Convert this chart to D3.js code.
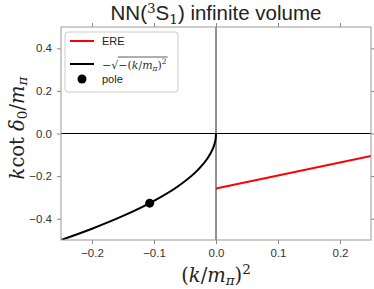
<!DOCTYPE html>
<html>
<head>
<meta charset="utf-8">
<script src="https://cdn.jsdelivr.net/npm/d3@7"></script>
<style>
  body { margin: 0; background: #fff; }
  svg { display: block; }
  .tick text { font-family: "Liberation Sans", Arial, sans-serif; font-size: 11.5px; fill: #333; }
  .tick line { stroke: #888; }
  .domain { display: none; }
  .math { font-family: "DejaVu Serif", serif; }
</style>
</head>
<body>
<div id="chart"></div>
<script>
// values
var xTicks = [-0.2, -0.1, 0.0, 0.1, 0.2];
var yTicks = [-0.4, -0.2, 0.0, 0.2, 0.4];

var ereX = [0.0, 0.25];
var ereY = [-0.258, -0.105];

var rootX = [-0.25, -0.2, -0.15, -0.1, -0.06, -0.03, -0.015, -0.006, -0.002, -0.0004, 0.0];
var rootY = [-0.5, -0.447, -0.387, -0.316, -0.245, -0.173, -0.122, -0.077, -0.045, -0.02, 0.0];

var poleX = [-0.107];
var poleY = [-0.327];

var svgWidth = 374;
var svgHeight = 289;

var margin = { top: 27, right: 3, bottom: 49, left: 61 };
var width = svgWidth - margin.left - margin.right;
var height = svgHeight - margin.top - margin.bottom;

var svg = d3.select("#chart")
  .append("svg")
  .attr("width", svgWidth)
  .attr("height", svgHeight);

var chartGroup = svg.append("g")
  .attr("transform", `translate(${margin.left}, ${margin.top})`);

var x = d3.scaleLinear().domain([-0.25, 0.25]).range([0, width]);
var y = d3.scaleLinear().domain([-0.5, 0.5]).range([height, 0]);

var fmt = function(d) { return d3.format(".1f")(d).replace("-", "\u2212"); };

// axes on all four sides, ticks outward
chartGroup.append("g")
  .attr("transform", `translate(0, ${height})`)
  .call(d3.axisBottom(x).tickValues(xTicks).tickFormat(fmt).tickSize(4).tickPadding(5));
chartGroup.append("g")
  .call(d3.axisTop(x).tickValues(xTicks).tickFormat("").tickSize(4));
chartGroup.append("g")
  .call(d3.axisLeft(y).tickValues(yTicks).tickFormat(fmt).tickSize(4).tickPadding(5));
chartGroup.append("g")
  .attr("transform", `translate(${width}, 0)`)
  .call(d3.axisRight(y).tickValues(yTicks).tickFormat("").tickSize(4));

// zero lines
chartGroup.append("line")
  .attr("x1", 0).attr("x2", width)
  .attr("y1", y(0)).attr("y2", y(0))
  .attr("stroke", "#000").attr("stroke-width", 1);
chartGroup.append("line")
  .attr("x1", x(0)).attr("x2", x(0))
  .attr("y1", 0).attr("y2", height)
  .attr("stroke", "#222").attr("stroke-width", 1);

chartGroup.append("clipPath").attr("id", "clip")
  .append("rect").attr("width", width).attr("height", height);

var plot = chartGroup.append("g").attr("clip-path", "url(#clip)");

var line = d3.line()
  .x(d => x(d[0]))
  .y(d => y(d[1]));

plot.append("path")
  .datum(ereX.map((v, i) => [v, ereY[i]]))
  .attr("d", line)
  .attr("fill", "none")
  .attr("stroke", "#ff0000")
  .attr("stroke-width", 2);

plot.append("path")
  .datum(rootX.map((v, i) => [v, rootY[i]]))
  .attr("d", line.curve(d3.curveMonotoneX))
  .attr("fill", "none")
  .attr("stroke", "#000")
  .attr("stroke-width", 2);

plot.selectAll("circle")
  .data(poleX.map((v, i) => [v, poleY[i]]))
  .enter()
  .append("circle")
  .attr("cx", d => x(d[0]))
  .attr("cy", d => y(d[1]))
  .attr("r", 4.5)
  .attr("fill", "#000");

// frame
chartGroup.append("rect")
  .attr("width", width).attr("height", height)
  .attr("fill", "none")
  .attr("stroke", "#999")
  .attr("stroke-width", 1);

// legend
var legend = chartGroup.append("g").attr("transform", "translate(4, 5)");
legend.append("rect")
  .attr("width", 113).attr("height", 60)
  .attr("rx", 3)
  .attr("fill", "#fff")
  .attr("stroke", "#ccc");
legend.append("line")
  .attr("x1", 5).attr("x2", 29).attr("y1", 9).attr("y2", 9)
  .attr("stroke", "#ff0000").attr("stroke-width", 2);
legend.append("text")
  .attr("x", 37).attr("y", 13)
  .attr("font-family", "Liberation Sans, Arial, sans-serif").attr("font-size", 11)
  .attr("fill", "#222")
  .text("ERE");
legend.append("line")
  .attr("x1", 5).attr("x2", 29).attr("y1", 32).attr("y2", 32)
  .attr("stroke", "#000").attr("stroke-width", 2);

// -sqrt(-(k/m_pi)^2) with a drawn overline
var rad = legend.append("text")
  .attr("class", "math")
  .attr("x", 37).attr("y", 36.5)
  .attr("font-size", 11)
  .attr("fill", "#333")
  .text("\u2212\u221A");
var radW = rad.node().getComputedTextLength();
var rt = legend.append("text")
  .attr("class", "math")
  .attr("x", 37 + radW).attr("y", 36.5)
  .attr("font-size", 11)
  .attr("fill", "#333");
rt.append("tspan").text("\u2212(");
rt.append("tspan").attr("font-style", "italic").text("k");
rt.append("tspan").text("/");
rt.append("tspan").attr("font-style", "italic").text("m");
rt.append("tspan").attr("font-style", "italic").attr("font-size", 7.5).attr("dy", 2).text("\u03C0");
rt.append("tspan").attr("dy", -2).text(")");
rt.append("tspan").attr("font-size", 7.5).attr("dy", -4.5).text("2");
var rtW = rt.node().getComputedTextLength();
legend.append("line")
  .attr("x1", 37 + radW - 0.5).attr("x2", 37 + radW + rtW + 1)
  .attr("y1", 25).attr("y2", 25)
  .attr("stroke", "#333").attr("stroke-width", 0.8);

legend.append("circle")
  .attr("cx", 17).attr("cy", 47).attr("r", 4.5).attr("fill", "#000");
legend.append("text")
  .attr("x", 37).attr("y", 51)
  .attr("font-family", "Liberation Sans, Arial, sans-serif").attr("font-size", 11)
  .attr("fill", "#222")
  .text("pole");

// title
var title = svg.append("text")
  .attr("x", margin.left + width / 2).attr("y", 20)
  .attr("text-anchor", "middle")
  .attr("font-family", "Liberation Sans, Arial, sans-serif")
  .attr("font-size", 20.5)
  .attr("fill", "#222");
title.append("tspan").text("NN(");
title.append("tspan").attr("font-size", 13.5).attr("dy", -7).attr("class", "math").text("3");
title.append("tspan").attr("dy", 7).text("S");
title.append("tspan").attr("font-size", 13.5).attr("dy", 4).attr("class", "math").text("1");
title.append("tspan").attr("dy", -4).text(") infinite volume");

// x label
var xl = svg.append("text")
  .attr("class", "math")
  .attr("x", margin.left + x(0)).attr("y", 282)
  .attr("text-anchor", "middle")
  .attr("font-size", 19.5)
  .attr("fill", "#222");
xl.append("tspan").text("(");
xl.append("tspan").attr("font-style", "italic").text("k");
xl.append("tspan").text("/");
xl.append("tspan").attr("font-style", "italic").text("m");
xl.append("tspan").attr("font-style", "italic").attr("font-size", 13.5).attr("dy", 3).text("\u03C0");
xl.append("tspan").attr("dy", -3).text(")");
xl.append("tspan").attr("font-size", 13.5).attr("dy", -8).text("2");

// y label
var yl = svg.append("text")
  .attr("class", "math")
  .attr("transform", `translate(24, 128) rotate(-90)`)
  .attr("text-anchor", "middle")
  .attr("font-size", 19.5)
  .attr("fill", "#222");
yl.append("tspan").attr("font-style", "italic").text("k");
yl.append("tspan").text("cot ");
yl.append("tspan").attr("font-style", "italic").text("\u03B4");
yl.append("tspan").attr("font-size", 13.5).attr("dy", 3).text("0");
yl.append("tspan").attr("dy", -3).text("/");
yl.append("tspan").attr("font-style", "italic").text("m");
yl.append("tspan").attr("font-style", "italic").attr("font-size", 13.5).attr("dy", 3).text("\u03C0");
</script>
</body>
</html>
